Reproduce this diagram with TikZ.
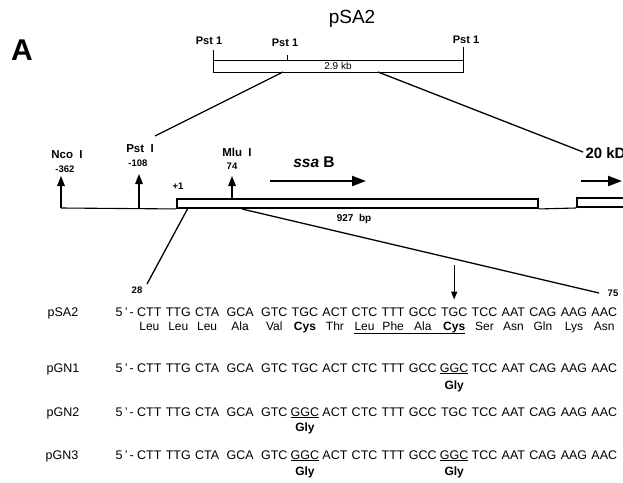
\documentclass[tikz,border=0pt]{standalone}
\usepackage{fontspec}
\setmainfont{Liberation Sans}
\usetikzlibrary{arrows.meta,positioning,calc}

\begin{document}
\begin{tikzpicture}[
  x=1pt, y=-1pt,
  codon/.style={inner sep=0pt, font=\fontsize{12.5}{13}\selectfont},
  amino/.style={inner sep=0pt, font=\fontsize{12}{12}\selectfont},
  gly/.style={inner sep=0pt, font=\fontsize{12}{12}\selectfont\bfseries},
  site/.style={inner sep=0pt, font=\fontsize{11.5}{12}\selectfont\bfseries},
  posnum/.style={inner sep=0pt, font=\fontsize{9.5}{10}\selectfont\bfseries},
  gene/.style={draw, line width=1.9pt, inner sep=0pt},
  cut/.style={-{Triangle[length=10pt,width=7.5pt]}, line width=1.4pt},
  dirarrow/.style={-{Triangle[length=14pt,width=10pt]}, line width=2.2pt},
  zoomline/.style={line width=1.3pt},
]
  \useasboundingbox (0,0) rectangle (623,482);
  \clip (0,0) rectangle (623,482);

  % Top: the 2.9 kb insert
  \node[font=\fontsize{19}{19}\selectfont] (title) at (352,19) {pSA2};
  \node[font=\fontsize{30}{30}\selectfont\bfseries] (panel) at (22,50) {A};
  \node[draw, line width=1pt, minimum width=250pt, minimum height=12pt, inner sep=0pt,
        font=\fontsize{10}{10}\selectfont] (kb) at (338,66) {2.9 kb};

  \coordinate (t1) at (213,50);
  \coordinate (t2) at (287,55);
  \coordinate (t3) at (463,47);
  \draw[line width=1pt] (t1) -- (t1 |- kb.north);
  \draw[line width=1pt] (t2) -- (t2 |- kb.north);
  \draw[line width=1pt] (t3) -- (t3 |- kb.north);
  \node[site, font=\fontsize{11}{11}\selectfont\bfseries] (pst1) at (209,41) {Pst 1};
  \node[site, font=\fontsize{11}{11}\selectfont\bfseries] (pst2) at (285,43) {Pst 1};
  \node[site, font=\fontsize{11}{11}\selectfont\bfseries] (pst3) at (466,40) {Pst 1};

  \coordinate (kbL) at (283,72);
  \coordinate (kbR) at (378,72);
  \coordinate (mapL) at (155,136);
  \coordinate (mapR) at (583,152);
  \draw[zoomline] (kbL) -- (mapL);
  \draw[zoomline] (kbR) -- (mapR);

  % Map of the region
  \coordinate (start) at (61,208);
  \node[gene, minimum width=361pt, minimum height=9pt] (ssaB) at (357.5,203.5) {};
  \node[gene, minimum width=60pt, minimum height=9pt, anchor=south west] (kd) at (576,208) {};
  \draw[line width=1.1pt] (start) -- (ssaB.south west);
  \draw[line width=1.1pt] (ssaB.south east) -- (kd.south west);

  \coordinate (ncoTip) at (61,176);
  \coordinate (pstBase) at (139,208);
  \coordinate (pstTip) at (139,174);
  \coordinate (mluBase) at (232,199);
  \coordinate (mluTip) at (232,176);
  \draw[cut] (start) -- (ncoTip);
  \draw[cut] (pstBase) -- (pstTip);
  \draw[cut] (mluBase) -- (mluTip);
  \node[site] (nco) at (67,155) {Nco\ \ I};
  \node[posnum] (ncoPos) at (65,169) {-362};
  \node[site] (pst) at (140,149) {Pst\ \ I};
  \node[posnum] (pstPos) at (138,163) {-108};
  \node[site] (mlu) at (237,152) {Mlu\ \ I};
  \node[posnum] (mluPos) at (232,166) {74};
  \node[posnum] (plus) at (178,186) {+1};

  \node[font=\fontsize{15.5}{16}\selectfont\bfseries] (ssaLbl) at (314,162) {\textit{ssa} B};
  \coordinate (ssaFrom) at (270,181);
  \coordinate (ssaTo) at (366,181);
  \draw[dirarrow] (ssaFrom) -- (ssaTo);
  \node[font=\fontsize{15}{15}\selectfont\bfseries, anchor=west] (kdLbl) at (582,153) {20 kD};
  \coordinate (kdFrom) at (581,181);
  \coordinate (kdTo) at (622,181);
  \draw[dirarrow] (kdFrom) -- (kdTo);
  \node[font=\fontsize{10}{10}\selectfont\bfseries] (bp) at (354,219) {927\ \ bp};

  % Sequence of pSA2
  \foreach \cod [count=\i] in {CTT,TTG,CTA,GCA,GTC,TGC,ACT,CTC,TTT,GCC,TGC,TCC,AAT,CAG,AAG,AAC}{
    \ifnum\i=1
      \node[codon, anchor=base west] (sa\i) at (137,316.5) {\cod};
    \else
      \pgfmathtruncatemacro\prev{\i-1}
      \def\gap{3.9}
      \ifnum\i=4 \def\gap{7}\fi
      \ifnum\i=5 \def\gap{7}\fi
      \node[codon, base right=\gap pt of sa\prev] (sa\i) {\cod};
    \fi
  }
  \coordinate (aaRow) at (0,330.5);
  \foreach \aa [count=\i] in {Leu,Leu,Leu,Ala,Val,\textbf{Cys},Thr,Leu,Phe,Ala,\textbf{Cys},Ser,Asn,Gln,Lys,Asn}
    \node[amino, anchor=base] (aa\i) at (sa\i |- aaRow) {\aa};
  \coordinate (ulRow) at (0,333.5);
  \draw[line width=0.9pt] (aa8.west |- ulRow) -- (aa11.east |- ulRow);

  \node[codon, anchor=base] (lblSA) at (63,316.5) {pSA2};
  \node[codon, anchor=base east] (fiveSA) at ($(sa1.base west)+(-3,0)$) {5\,'\,-};

  \coordinate (boxL) at (188,208);
  \coordinate (seq28) at (147,284);
  \coordinate (boxR) at (242,209);
  \coordinate (seq75) at (599,293);
  \draw[zoomline] (boxL) -- (seq28);
  \draw[zoomline] (boxR) -- (seq75);
  \node[posnum] (n28) at (137,290) {28};
  \node[posnum] (n75) at (613,293) {75};

  \coordinate (mutTop) at (sa11 |- 0,265);
  \draw[-{Triangle[length=8pt,width=6pt]}, line width=1.3pt, shorten >=8pt] (mutTop) -- (sa11);

  % Mutants
  \coordinate (gnARow) at (0,372);
  \coordinate (glyARow) at (0,389);
  \coordinate (gnBRow) at (0,416);
  \coordinate (glyBRow) at (0,431);
  \coordinate (gnCRow) at (0,459);
  \coordinate (glyCRow) at (0,475);

  \foreach \cod [count=\i] in {CTT,TTG,CTA,GCA,GTC,TGC,ACT,CTC,TTT,GCC,\underline{GGC},TCC,AAT,CAG,AAG,AAC}
    \node[codon, anchor=base] (gnA\i) at (sa\i |- gnARow) {\cod};
  \foreach \cod [count=\i] in {CTT,TTG,CTA,GCA,GTC,\underline{GGC},ACT,CTC,TTT,GCC,TGC,TCC,AAT,CAG,AAG,AAC}
    \node[codon, anchor=base] (gnB\i) at (sa\i |- gnBRow) {\cod};
  \foreach \cod [count=\i] in {CTT,TTG,CTA,GCA,GTC,\underline{GGC},ACT,CTC,TTT,GCC,\underline{GGC},TCC,AAT,CAG,AAG,AAC}
    \node[codon, anchor=base] (gnC\i) at (sa\i |- gnCRow) {\cod};

  \node[gly, anchor=base] (glyA) at (gnA11 |- glyARow) {Gly};
  \node[gly, anchor=base] (glyB) at (gnB6 |- glyBRow) {Gly};
  \node[gly, anchor=base] (glyC1) at (gnC6 |- glyCRow) {Gly};
  \node[gly, anchor=base] (glyC2) at (gnC11 |- glyCRow) {Gly};

  \node[codon, anchor=base] (lblA) at (63,372) {pGN1};
  \node[codon, anchor=base] (lblB) at (63,416) {pGN2};
  \node[codon, anchor=base] (lblC) at (62,459) {pGN3};
  \node[codon, anchor=base east] (fiveA) at ($(gnA1.base west)+(-3,0)$) {5\,'\,-};
  \node[codon, anchor=base east] (fiveB) at ($(gnB1.base west)+(-3,0)$) {5\,'\,-};
  \node[codon, anchor=base east] (fiveC) at ($(gnC1.base west)+(-3,0)$) {5\,'\,-};
\end{tikzpicture}
\end{document}
